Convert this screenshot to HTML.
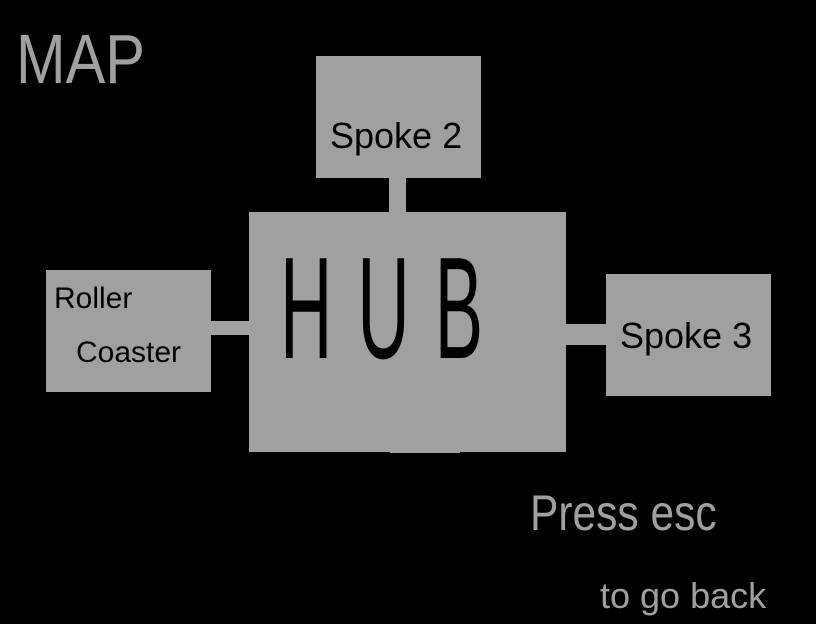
<!DOCTYPE html>
<html><head><style>
body{margin:0;width:816px;height:624px;background:#000;position:relative;overflow:hidden;font-family:"Liberation Sans",sans-serif}
.b{position:absolute;background:#a0a0a0}
.t{position:absolute;white-space:nowrap;line-height:1}
</style></head><body>
<div class="b" style="left:249px;top:212px;width:317px;height:240px"></div>
<div class="b" style="left:316px;top:56px;width:165px;height:122px"></div>
<div class="b" style="left:389px;top:178px;width:17px;height:34px"></div>
<div class="b" style="left:46px;top:270px;width:165px;height:122px"></div>
<div class="b" style="left:211px;top:321px;width:38px;height:14px"></div>
<div class="b" style="left:606px;top:274px;width:165px;height:122px"></div>
<div class="b" style="left:566px;top:324px;width:40px;height:21px"></div>
<div class="b" style="left:390px;top:450px;width:70px;height:3px"></div>
<div class="t" style="left:16px;top:24px;font-size:70px;color:#a0a0a0;transform:scaleX(0.85);transform-origin:left">MAP</div>
<div class="t" style="left:330px;top:118px;font-size:36px;color:#000">Spoke 2</div>
<div class="t" style="left:280px;top:236px;font-size:145px;color:#000;letter-spacing:50px;transform:scaleX(0.5);transform-origin:left">HUB</div>
<div class="t" style="left:54px;top:284px;font-size:30px;color:#000">Roller</div>
<div class="t" style="left:76px;top:338px;font-size:30px;color:#000">Coaster</div>
<div class="t" style="left:620px;top:318px;font-size:36px;color:#000">Spoke 3</div>
<div class="t" style="left:530px;top:488px;font-size:50px;color:#a0a0a0;transform:scaleX(0.85);transform-origin:left">Press esc</div>
<div class="t" style="left:600px;top:578px;font-size:36px;color:#a0a0a0">to go back</div>
</body></html>
